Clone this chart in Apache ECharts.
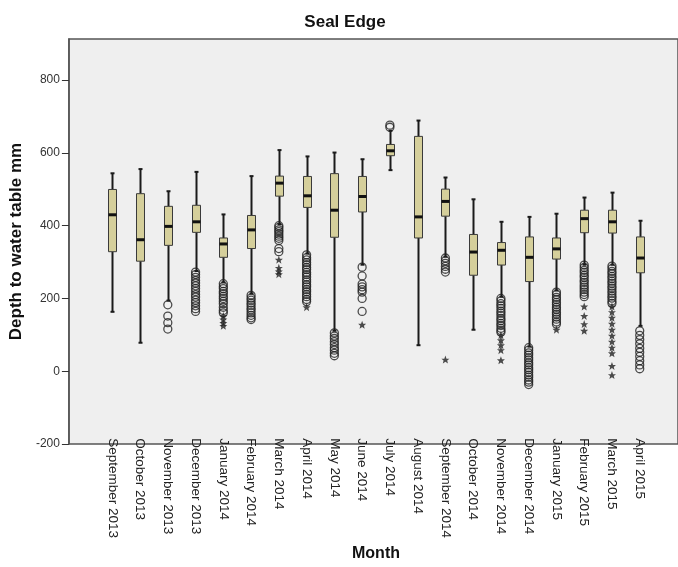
<!DOCTYPE html>
<html>
<head>
<meta charset="utf-8">
<script src="https://cdn.jsdelivr.net/npm/echarts@6/dist/echarts.min.js"></script>
<style>
  html, body { margin: 0; padding: 0; background: #fff; }
  #main { width: 678px; height: 567px; }
</style>
</head>
<body>
<div id="main"></div>
<script>
// months on the x axis
var months = ['September 2013', 'October 2013', 'November 2013', 'December 2013',
  'January 2014', 'February 2014', 'March 2014', 'April 2014', 'May 2014', 'June 2014',
  'July 2014', 'August 2014', 'September 2014', 'October 2014', 'November 2014',
  'December 2014', 'January 2015', 'February 2015', 'March 2015', 'April 2015'];

// box statistics (mm)
var whiskerLow  = [137, 49, 169, 253, 221, 189, 386, 303, 83, 271, 540, 42, 294, 86, 180, 38, 198, 271, 271, 97];
var q1          = [308, 281, 326, 363, 292, 317, 466, 434, 349, 421, 581, 347, 409, 241, 270, 223, 287, 362, 361, 248];
var median      = [413, 342, 380, 393, 330, 370, 503, 467, 426, 465, 595, 407, 451, 307, 312, 292, 316, 402, 393, 290];
var q3          = [485, 473, 437, 440, 347, 411, 523, 522, 530, 522, 613, 636, 486, 357, 334, 350, 347, 426, 426, 350];
var whiskerHigh = [531, 543, 480, 535, 414, 523, 597, 579, 590, 571, 652, 681, 519, 457, 393, 407, 416, 462, 476, 396];

// outliers (circles) per month
var outliers = [
  [], [],
  [157, 125, 106, 88],
  [250, 243, 235, 226, 219, 211, 203, 195, 186, 179, 170, 163, 154, 146, 138],
  [217, 209, 203, 195, 189, 181, 175, 167, 160, 150, 141, 134],
  [184, 176, 170, 162, 156, 148, 142, 134, 127, 120, 115],
  [382, 377, 370, 365, 358, 352, 346, 340, 317, 308],
  [299, 291, 285, 277, 271, 263, 257, 249, 243, 236, 228, 222, 214, 208, 200, 194, 186, 180, 172, 166],
  [77, 68, 61, 52, 44, 35, 28, 19, 12],
  [264, 239, 216, 208, 200, 193, 175, 138],
  [668, 662],
  [],
  [290, 282, 275, 266, 258, 250],
  [],
  [175, 168, 160, 154, 147, 139, 133, 126, 118, 112, 104, 98, 90, 84, 79],
  [35, 28, 20, 14, 6, 0, -8, -14, -22, -28, -35, -43, -49, -57, -63, -70],
  [193, 186, 178, 172, 164, 158, 150, 144, 136, 130, 122, 116, 108, 102],
  [270, 263, 255, 249, 241, 235, 227, 221, 213, 207, 200, 193, 186, 180],
  [267, 260, 252, 246, 238, 232, 224, 218, 210, 204, 196, 190, 182, 176, 168, 161],
  [83, 70, 58, 46, 33, 22, 10, -2, -14, -25]
];

// extreme values (stars) per month
var extremes = [
  [], [], [], [],
  [125, 115, 105, 97],
  [],
  [285, 262, 252, 244],
  [150],
  [],
  [100],
  [], [],
  [1],
  [],
  [70, 56, 42, 28, -1],
  [],
  [86],
  [152, 125, 102, 83],
  [152, 136, 120, 103, 86, 69, 52, 35, 19, -17, -43],
  []
];

var yTicks = [-200, 0, 200, 400, 600, 800];

var boxData = months.map(function (m, i) {
  return [i, whiskerLow[i], q1[i], median[i], q3[i], whiskerHigh[i]];
});
function toPoints(list) {
  var pts = [];
  list.forEach(function (vals, i) {
    vals.forEach(function (v) { pts.push([i, v]); });
  });
  return pts;
}

function renderBox(params, api) {
  var x = api.value(0);
  var pLow = api.coord([x, api.value(1)]);
  var pQ1 = api.coord([x, api.value(2)]);
  var pMed = api.coord([x, api.value(3)]);
  var pQ3 = api.coord([x, api.value(4)]);
  var pHigh = api.coord([x, api.value(5)]);
  var cx = Math.round(pMed[0]) + 0.5;
  var half = 4, cap = 2;
  var line = { stroke: '#1a1a1a', lineWidth: 2 };
  return {
    type: 'group',
    children: [
      { type: 'line', shape: { x1: cx, y1: pHigh[1], x2: cx, y2: pQ3[1] }, style: line },
      { type: 'line', shape: { x1: cx, y1: pQ1[1], x2: cx, y2: pLow[1] }, style: line },
      { type: 'line', shape: { x1: cx - cap, y1: pHigh[1], x2: cx + cap, y2: pHigh[1] }, style: line },
      { type: 'line', shape: { x1: cx - cap, y1: pLow[1], x2: cx + cap, y2: pLow[1] }, style: line },
      { type: 'rect', shape: { x: cx - half, y: pQ3[1], width: half * 2, height: pQ1[1] - pQ3[1] },
        style: { fill: '#d5cf9b', stroke: '#3a3a3a', lineWidth: 1 } },
      { type: 'line', shape: { x1: cx - half, y1: pMed[1], x2: cx + half, y2: pMed[1] },
        style: { stroke: '#111', lineWidth: 3 } }
    ]
  };
}

var myChart = echarts.init(document.getElementById('main'), null, { renderer: 'canvas' });
var option = {
  animation: false,
  backgroundColor: '#fff',
  textStyle: { fontFamily: 'Liberation Sans, Arial, sans-serif' },
  title: {
    text: 'Seal Edge',
    left: 340, top: 9, textAlign: 'center',
    textStyle: { fontSize: 17, fontWeight: 'bold', color: '#111' }
  },
  grid: [
    { left: 67, top: 39, right: -10, bottom: 123, show: true,
      backgroundColor: '#efefef', borderColor: '#555', borderWidth: 1.5 },
    { left: 98.4, top: 39, right: 24.4, bottom: 123 }
  ],
  xAxis: [
    { gridIndex: 0, type: 'value', min: 0, max: 1, show: false },
    { gridIndex: 1, type: 'category', data: months,
      axisLine: { show: false },
      axisTick: { alignWithLabel: true, length: 5, lineStyle: { color: '#333' } },
      axisLabel: { rotate: -90, interval: 0, fontSize: 13.5, color: '#222', margin: 8 },
      name: 'Month', nameLocation: 'middle', nameGap: 109,
      nameTextStyle: { fontSize: 16, fontWeight: 'bold', color: '#111' } }
  ],
  yAxis: [
    { gridIndex: 0, type: 'value', min: -200, max: 913,
      splitLine: { show: false },
      axisLine: { show: true, lineStyle: { color: '#555', width: 1.5 } },
      axisTick: { show: true, length: 7, customValues: yTicks, lineStyle: { color: '#333' } },
      axisLabel: { fontSize: 12, color: '#333', margin: 9, customValues: yTicks },
      name: 'Depth to water table mm', nameLocation: 'middle', nameGap: 42,
      nameTextStyle: { fontSize: 17, fontWeight: 'bold', color: '#111' } },
    { gridIndex: 1, type: 'value', min: -200, max: 913, show: false, splitLine: { show: false } }
  ],
  series: [
    { type: 'custom', xAxisIndex: 1, yAxisIndex: 1, data: boxData,
      encode: { x: 0, y: [1, 2, 3, 4, 5] }, renderItem: renderBox, z: 3 },
    { type: 'scatter', xAxisIndex: 1, yAxisIndex: 1, data: toPoints(outliers),
      symbol: 'circle', symbolSize: 8,
      itemStyle: { color: 'rgba(0,0,0,0)', borderColor: '#222', borderWidth: 1.3 }, z: 4 },
    { type: 'scatter', xAxisIndex: 1, yAxisIndex: 1, data: toPoints(extremes),
      symbol: 'path://M12,1L15,9L23,9L17,14L19,22L12,17L5,22L7,14L1,9L9,9Z', symbolSize: 8,
      itemStyle: { color: '#222' }, z: 4 }
  ]
};
myChart.setOption(option);
</script>
</body>
</html>
